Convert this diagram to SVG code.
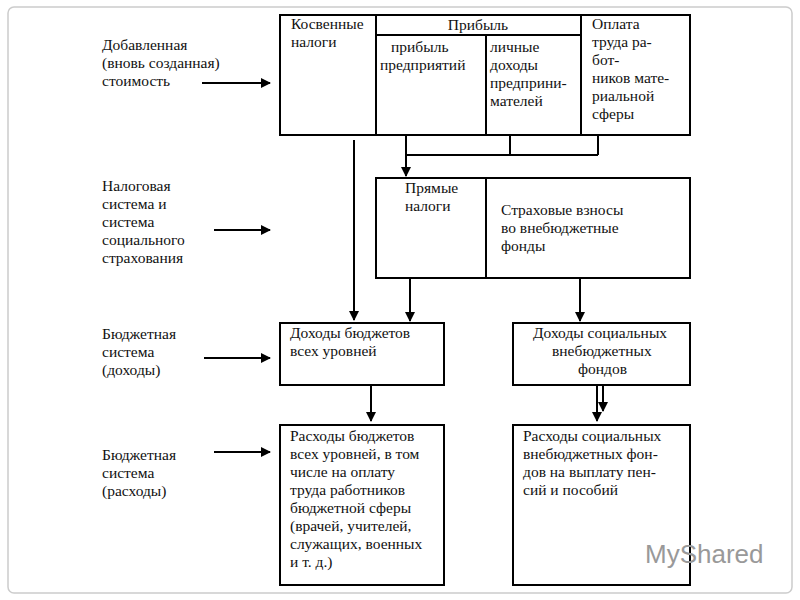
<svg xmlns="http://www.w3.org/2000/svg" width="800" height="600" viewBox="0 0 800 600">
<defs>
<marker id="ah" markerWidth="10" markerHeight="10" refX="9" refY="5" orient="auto" markerUnits="userSpaceOnUse"><path d="M0,0 L10,5 L0,10 z" fill="#000"/></marker>
<style>
.b{fill:#fff;stroke:#000;stroke-width:2}
.l{stroke:#000;stroke-width:2;fill:none}
.c{stroke:#000;stroke-width:2;fill:none;marker-end:url(#ah)}
.t text{font-size:15.5px;fill:#111}
</style>
</defs>
<rect x="0" y="0" width="800" height="600" fill="#fff"/>
<rect x="8" y="7" width="784" height="586" rx="6" fill="#fff" stroke="#ccc" stroke-width="1.5"/>
<g class="t" font-family="Liberation Serif, Times New Roman, serif">
<g id="labels">
<text x="102" y="50">Добавленная</text><text x="102" y="68">(вновь созданная)</text><text x="102" y="86">стоимость</text>
<text x="102" y="191">Налоговая</text><text x="102" y="209">система и</text><text x="102" y="227">система</text><text x="102" y="245">социального</text><text x="102" y="263">страхования</text>
<text x="102" y="339">Бюджетная</text><text x="102" y="357">система</text><text x="102" y="375">(доходы)</text>
<text x="102" y="460">Бюджетная</text><text x="102" y="478">система</text><text x="102" y="496">(расходы)</text>
</g>
<g id="top">
<rect class="b" x="280" y="15" width="410" height="120"/>
<path class="l" d="M376,15V135M581,15V135M376,35H581M486,35V135"/>
<text x="291" y="29">Косвенные</text><text x="291" y="47">налоги</text>
<text x="478" y="30" text-anchor="middle">Прибыль</text>
<text x="391" y="52">прибыль</text><text x="380" y="70">предприятий</text>
<text x="490" y="52">личные</text><text x="490" y="70">доходы</text><text x="490" y="88">предприни-</text><text x="490" y="106">мателей</text>
<text x="592" y="29">Оплата</text><text x="592" y="47">труда ра-</text><text x="592" y="65">бот-</text><text x="592" y="83">ников мате-</text><text x="592" y="101">риальной</text><text x="592" y="119">сферы</text>
</g>
<g id="tax">
<rect class="b" x="376" y="178" width="314" height="100"/>
<path class="l" d="M486,178V278"/>
<text x="405" y="193">Прямые</text><text x="405" y="211">налоги</text>
<text x="501" y="215">Страховые взносы</text><text x="501" y="233">во внебюджетные</text><text x="501" y="251">фонды</text>
</g>
<g id="budinc">
<rect class="b" x="280" y="323" width="164" height="62"/>
<text x="290" y="338">Доходы бюджетов</text><text x="290" y="356">всех уровней</text>
</g>
<g id="socinc">
<rect class="b" x="513" y="323" width="177" height="62"/>
<text x="533" y="338">Доходы социальных</text><text x="552" y="356">внебюджетных</text><text x="578" y="374">фондов</text>
</g>
<g id="budexp">
<rect class="b" x="280" y="425" width="164" height="160"/>
<text x="290" y="441">Расходы бюджетов</text><text x="290" y="459">всех уровней, в том</text><text x="290" y="477">числе на оплату</text><text x="290" y="495">труда работников</text><text x="290" y="513">бюджетной сферы</text><text x="290" y="531">(врачей, учителей,</text><text x="290" y="549">служащих, военных</text><text x="290" y="567">и т. д.)</text>
</g>
<g id="socexp">
<rect class="b" x="513" y="425" width="177" height="160"/>
<text x="523" y="441">Расходы социальных</text><text x="523" y="459">внебюджетных  фон-</text><text x="523" y="477">дов  на выплату пен-</text><text x="523" y="495">сий и пособий</text>
</g>
</g>
<g id="connectors">
<path class="c" d="M202,83H270"/><path class="c" d="M214,230H270"/><path class="c" d="M204,358H270"/><path class="c" d="M214,452H270"/>
<path class="c" d="M354,140V320"/>
<path class="l" d="M406,155H598M510,135V155M598,135V155"/>
<path class="c" d="M406,135V176"/>
<path class="c" d="M410,278V321"/><path class="c" d="M580,278V321"/>
<path class="c" d="M371,385V421"/>
<path class="c" d="M597,385V421"/><path class="c" d="M603,385V411"/>
</g>
<text x="645" y="563" font-family="Liberation Sans, Arial, sans-serif" font-size="26" fill="#999">MyShared</text>
</svg>
